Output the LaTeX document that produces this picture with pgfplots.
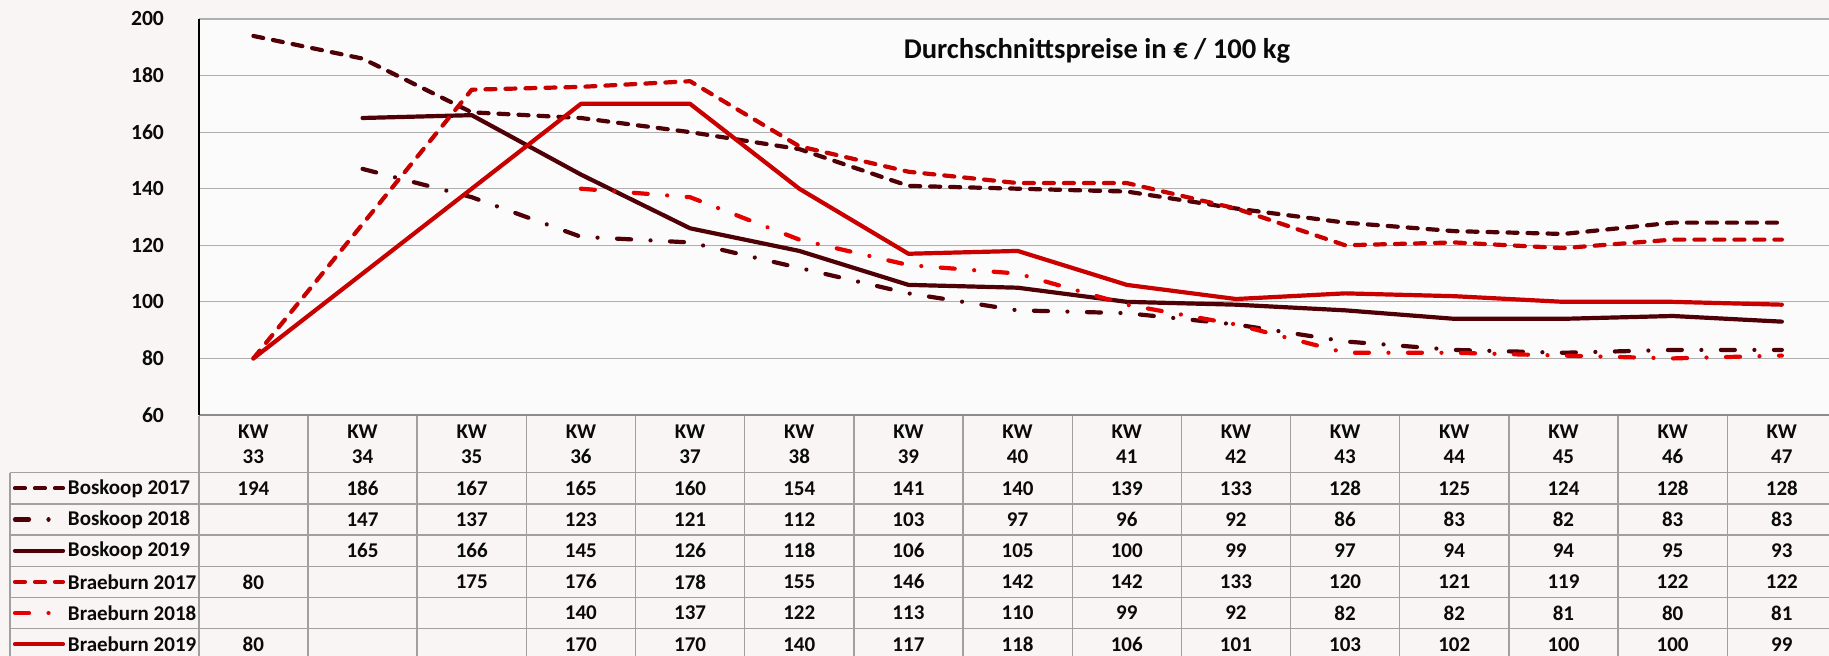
\documentclass[border=0pt]{standalone}
\usepackage{fontspec}
\setmainfont{Carlito}
\usepackage{pgfplots}
\usepackage{pgfplotstable}
\pgfplotsset{compat=1.18}

\definecolor{bosk}{RGB}{78,0,6}
\definecolor{brae}{RGB}{200,0,0}
\definecolor{braeb}{RGB}{230,0,0}
\definecolor{gridc}{RGB}{175,175,175}
\definecolor{tabc}{RGB}{160,160,160}
\definecolor{pagebg}{RGB}{250,245,245}
\definecolor{plotbg}{RGB}{252,251,251}
\definecolor{txt}{RGB}{10,10,10}

\pgfplotstableread{
kw B17 B18 B19 R17 R18 R19
0  194 nan nan 80  nan 80
1  186 147 165 nan nan nan
2  167 137 166 175 nan nan
3  165 123 145 176 140 170
4  160 121 126 178 137 170
5  154 112 118 155 122 140
6  141 103 106 146 113 117
7  140 97  105 142 110 118
8  139 96  100 142 99  106
9  133 92  99  133 92  101
10 128 86  97  120 82  103
11 125 83  94  121 82  102
12 124 82  94  119 81  100
13 128 83  95  122 80  100
14 128 83  93  122 81  99
}\data

\tikzset{
  dashedl/.style={line width=2.1pt, line cap=round, line join=round, dash pattern=on 5pt off 5pt},
  dashdotl/.style={line width=2.1pt, line cap=round, line join=round, dash pattern=on 7pt off 9.75pt on 0.01pt off 9.75pt},
  solidl/.style={line width=2.1pt, line cap=round, line join=round},
}

\pgfplotsset{
  tabrow/.style={only marks, mark=*, mark size=0pt, mark options={draw=none,fill=none},
    nodes near coords, point meta=explicit, nodes near coords align=center,
    every node near coord/.append style={anchor=center, text=txt, yshift=#1,
      font=\fontsize{10.5}{12}\selectfont\bfseries}},
}

\begin{document}
\begin{tikzpicture}
\useasboundingbox[fill=pagebg] (-99.4pt,-120.5pt) rectangle (815.1pt,207.5pt);
\begin{axis}[
  at={(0,0)}, anchor=south west,
  scale only axis, width=818.8pt, height=198pt,
  xmin=-0.5, xmax=14.5, ymin=60, ymax=200,
  ytick={60,80,...,200},
  xtick={0,...,14},
  xticklabels={{KW\\33},{KW\\34},{KW\\35},{KW\\36},{KW\\37},{KW\\38},{KW\\39},{KW\\40},{KW\\41},{KW\\42},{KW\\43},{KW\\44},{KW\\45},{KW\\46},{KW\\47}},
  xticklabel style={align=center, anchor=center, yshift=-14.6pt, text=txt,
    font=\fontsize{10.5}{12.5}\selectfont\bfseries},
  yticklabel style={text=txt, xshift=-13.9pt, font=\fontsize{10.8}{12}\selectfont\bfseries},
  major tick length=0pt,
  ymajorgrids, grid style={gridc, line width=0.6pt},
  axis line style={draw=none},
  axis background/.style={fill=plotbg},
  clip=false,
  /pgf/number format/assume math mode=true,
]
\addplot[bosk, dashedl] table[x=kw, y=B17]{\data};
\addplot[bosk, dashdotl] table[x=kw, y=B18]{\data};
\addplot[bosk, solidl] table[x=kw, y=B19]{\data};
\addplot[brae, dashedl] table[x=kw, y=R17]{\data};
\addplot[braeb, dashdotl] table[x=kw, y=R18]{\data};
\addplot[brae, solidl] table[x=kw, y=R19]{\data};

\addplot[tabrow=-36.65pt] table[x=kw, y expr=\thisrow{B17}*0+60, meta=B17]{\data};
\addplot[tabrow=-52.25pt] table[x=kw, y expr=\thisrow{B18}*0+60, meta=B18]{\data};
\addplot[tabrow=-67.85pt] table[x=kw, y expr=\thisrow{B19}*0+60, meta=B19]{\data};
\addplot[tabrow=-83.45pt] table[x=kw, y expr=\thisrow{R17}*0+60, meta=R17]{\data};
\addplot[tabrow=-99.05pt] table[x=kw, y expr=\thisrow{R18}*0+60, meta=R18]{\data};
\addplot[tabrow=-114.65pt] table[x=kw, y expr=\thisrow{R19}*0+60, meta=R19]{\data};
\end{axis}

% axis frame
\draw[gridc!80!black, line width=1pt] (0,0) -- (818.8pt,0);
\draw[black, line width=0.8pt] (0,0) -- (0,198pt);

% table grid
\foreach \k in {0,...,5}{
  \draw[tabc, line width=0.7pt] (-94.4pt,{-28.85pt-\k*15.6pt}) -- (818.8pt,{-28.85pt-\k*15.6pt});
}
\foreach \j in {0,...,15}{
  \draw[tabc, line width=0.7pt] ({\j*54.5867pt},-0.5pt) -- ({\j*54.5867pt},-125pt);
}
\draw[tabc, line width=0.7pt] (-94.4pt,-28.85pt) -- (-94.4pt,-125pt);

% legend keys and names
\foreach \k/\sty/\col/\name in {1/dashedl/bosk/Boskoop 2017, 2/dashdotl/bosk/Boskoop 2018, 3/solidl/bosk/Boskoop 2019, 4/dashedl/brae/Braeburn 2017, 5/dashdotl/braeb/Braeburn 2018, 6/solidl/brae/Braeburn 2019}{
  \draw[\sty, \col] (-91.9pt,{-28.85pt-(\k-0.5)*15.6pt}) -- (-67.9pt,{-28.85pt-(\k-0.5)*15.6pt});
  \node[anchor=west, inner sep=0pt, text=txt, font=\fontsize{10.5}{12}\selectfont\bfseries]
    at (-65.6pt,{-28.85pt-(\k-0.5)*15.6pt}) {\name};
}

% title
\node[anchor=base, text=txt, font=\fontsize{14.3}{16}\selectfont\bfseries] at (449.1pt,178pt)
  {Durchschnittspreise in € / 100 kg};
\end{tikzpicture}
\end{document}
